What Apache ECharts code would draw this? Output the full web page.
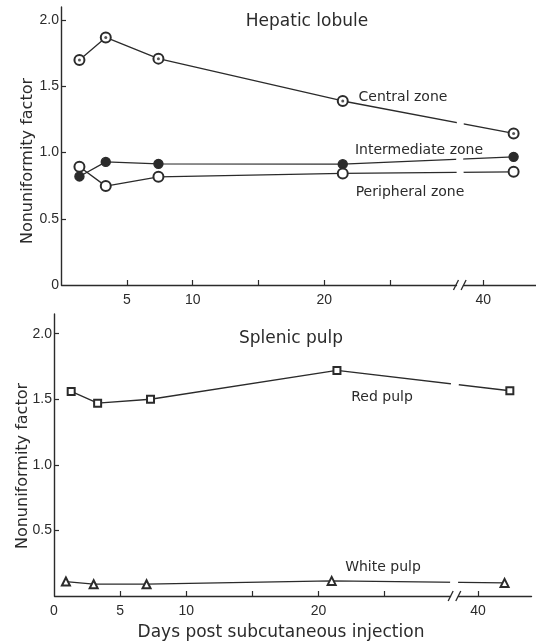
<!DOCTYPE html>
<html><head><meta charset="utf-8">
<script src="https://cdn.jsdelivr.net/npm/echarts@6/dist/echarts.min.js"></script>
<style>html,body{margin:0;padding:0;background:#fff}#c{width:536px;height:642px}</style>
</head><body><div id="c"></div>
<script>
// ---- data ----
const liverDays = [1.4, 3.4, 7.4, 21.4, 42.3];
const centralZone = [1.70, 1.87, 1.71, 1.39, 1.145];
const intermediateZone = [0.82, 0.93, 0.915, 0.913, 0.968];
const peripheralZone = [0.893, 0.747, 0.817, 0.843, 0.855];
const redPulpDays = [1.3, 3.3, 7.3, 21.4, 42.4];
const redPulp = [1.56, 1.47, 1.50, 1.72, 1.565];
const whitePulpDays = [0.9, 3.0, 7.0, 21.0, 42.0];
const whitePulp = [0.11, 0.09, 0.09, 0.115, 0.10];
const xTicks = [5, 10, 15, 20, 25, 40];
const xLabelsTop = [5, 10, 20, 40];
const xLabelsBottom = [0, 5, 10, 20, 40];
const yTicks = [0.5, 1, 1.5, 2];
const yLabelsTop = [0, 0.5, 1, 1.5, 2];
const yLabelsBottom = [0.5, 1, 1.5, 2];
const breakStart = 30, breakEnd = 38.5;

const INK = '#2b2b2b';
const FONT = 'DejaVu Sans';
const TICKFONT = 'Liberation Sans';
const zip = (xs, ys) => xs.map((x, i) => [x, ys[i]]);

function xAxis(idx, labels, name) {
  return {
    type: 'value', gridIndex: idx, min: 0, max: 44,
    breaks: [{start: breakStart, end: breakEnd, gap: '1.6%'}],
    breakArea: {show: true, itemStyle: {color: '#fff', opacity: 1, borderWidth: 0, borderColor: 'rgba(0,0,0,0)'}, zigzagAmplitude: 0.5, zigzagZ: 100, expandOnClick: false},
    axisLine: {lineStyle: {color: INK, width: 1.4}},
    axisTick: {inside: true, length: 5, customValues: xTicks, lineStyle: {color: INK, width: 1.2}},
    axisLabel: {customValues: labels, color: INK, fontFamily: TICKFONT, fontSize: 14, margin: 8},
    splitLine: {show: false},
    name: name, nameLocation: 'middle', nameGap: 28, nameMoveOverlap: false,
    nameTextStyle: {color: INK, fontFamily: FONT, fontSize: 17, padding: [0, 23, 0, 0]}
  };
}
function yAxis(idx, max, labels, gap, shift) {
  return {
    type: 'value', gridIndex: idx, min: 0, max: max,
    axisLine: {show: true, lineStyle: {color: INK, width: 1.4}},
    axisTick: {show: true, inside: true, length: 5, customValues: yTicks, lineStyle: {color: INK, width: 1.2}},
    axisLabel: {customValues: labels, color: INK, fontFamily: TICKFONT, fontSize: 14, margin: 2,
      formatter: v => v === 0 ? '0' : v.toFixed(1)},
    splitLine: {show: false},
    name: 'Nonuniformity factor', nameLocation: 'middle', nameGap: gap, nameRotate: 90, nameMoveOverlap: false,
    nameTextStyle: {color: INK, fontFamily: FONT, fontSize: 16, padding: [0, shift, 0, 0]}
  };
}
function lineSeries(name, xi, data, symbol, size) {
  return {
    name: name, type: 'line', xAxisIndex: xi, yAxisIndex: xi, data: data,
    symbol: symbol, symbolSize: size, showAllSymbol: true,
    lineStyle: {color: INK, width: 1.3},
    itemStyle: {color: INK, borderColor: INK, borderWidth: 1.4},
    z: 3, animation: false
  };
}
function note(text, cx, cy, size) {
  return {type: 'text', z: 200, x: cx, y: cy,
    style: {text: text, fill: INK, font: size + 'px "' + FONT + '"', textAlign: 'center', textVerticalAlign: 'middle'}};
}

const chart = echarts.init(document.getElementById('c'), null, {renderer: 'canvas'});
chart.setOption({
  backgroundColor: '#fff',
  animation: false,
  grid: [
    {left: 61, top: 7, width: 475, height: 278, containLabel: false, outerBoundsMode: 'none'},
    {left: 54, top: 314, width: 477, height: 282, containLabel: false, outerBoundsMode: 'none'}
  ],
  xAxis: [xAxis(0, xLabelsTop, ''), xAxis(1, xLabelsBottom, 'Days post subcutaneous injection')],
  yAxis: [yAxis(0, 2.1, yLabelsTop, 25, 30), yAxis(1, 2.15, yLabelsBottom, 23, 22)],
  series: [
    lineSeries('Central zone', 0, zip(liverDays, centralZone), 'emptyCircle', 10),
    {type: 'scatter', xAxisIndex: 0, yAxisIndex: 0, data: zip(liverDays, centralZone),
      symbol: 'circle', symbolSize: 3, itemStyle: {color: INK}, z: 5, silent: true},
    lineSeries('Intermediate zone', 0, zip(liverDays, intermediateZone), 'circle', 9),
    lineSeries('Peripheral zone', 0, zip(liverDays, peripheralZone), 'emptyCircle', 10),
    lineSeries('Red pulp', 1, zip(redPulpDays, redPulp), 'emptyRect', 7),
    lineSeries('White pulp', 1, zip(whitePulpDays, whitePulp), 'emptyTriangle', 8)
  ]
});

// text annotations and break marks "//" on both x axes
const g = [
  note('Hepatic lobule', 307, 22, 17),
  note('Splenic pulp', 291, 339, 17),
  note('Central zone', 403, 97, 14),
  note('Intermediate zone', 419, 150, 14),
  note('Peripheral zone', 410, 192, 14),
  note('Red pulp', 382, 397, 14),
  note('White pulp', 383, 567, 14)
];
[0, 1].forEach(i => {
  const xl = chart.convertToPixel({xAxisIndex: i}, breakStart);
  const xr = chart.convertToPixel({xAxisIndex: i}, breakEnd);
  const y0 = chart.convertToPixel({yAxisIndex: i}, 0);
  [xl, xr].forEach(x => g.push({type: 'line', z: 200,
    shape: {x1: x - 2.5, y1: y0 + 5, x2: x + 2.5, y2: y0 - 5},
    style: {stroke: INK, lineWidth: 1.3}}));
});
chart.setOption({graphic: g});
</script></body></html>
